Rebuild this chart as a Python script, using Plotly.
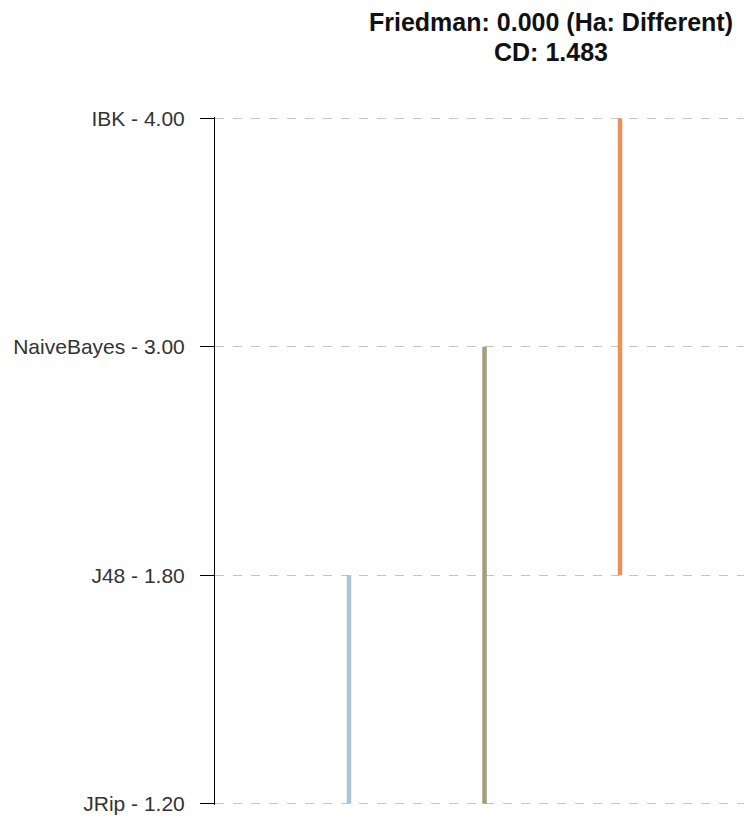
import plotly.graph_objects as go

# Data
methods = ["JRip", "J48", "NaiveBayes", "IBK"]
ranks = [1.20, 1.80, 3.00, 4.00]
tick_labels = [f"{m} - {r:.2f}" for m, r in zip(methods, ranks)]

# Groups of methods not significantly different (x slot, from method, to method)
group_slots = [1, 2, 3]
group_from = ["JRip", "JRip", "J48"]
group_to = ["J48", "NaiveBayes", "IBK"]
group_colors = ["#a8c6d8", "#a89a7c", "#e8925a"]

title_line1 = "Friedman: 0.000 (Ha: Different)"
title_line2 = "CD: 1.483"

fig = go.Figure()
for s, a, b, c in zip(group_slots, group_from, group_to, group_colors):
    fig.add_trace(go.Scatter(
        x=[s, s], y=[tick_labels[methods.index(a)], tick_labels[methods.index(b)]],
        mode="lines", line=dict(color=c, width=4.5), hoverinfo="skip", showlegend=False,
    ))

# page body has an 8px margin, so the figure is offset by 8px
fig.update_layout(
    width=744, height=814,
    margin=dict(l=207, r=0, t=109, b=17),
    plot_bgcolor="white", paper_bgcolor="white",
    font=dict(family="Arial, Liberation Sans, sans-serif"),
    showlegend=False,
)
fig.update_yaxes(
    type="category", categoryorder="array", categoryarray=tick_labels,
    range=[-0.006, 3.006], showline=True, linecolor="black", linewidth=1,
    ticks="outside", ticklen=14, tickcolor="black", ticklabelstandoff=11,
    showgrid=True, gridcolor="#c4c4c4", griddash="dash", gridwidth=1,
    tickfont=dict(size=21, color="#333333"), zeroline=False,
)
fig.update_xaxes(range=[0.011, 3.974], visible=False, showgrid=False, zeroline=False)

xc = (551 - 215) / 537
fig.add_annotation(text=f"<b>{title_line1}</b>", x=xc, y=1, yshift=117 - 22,
                   xref="paper", yref="paper", yanchor="middle",
                   showarrow=False, font=dict(size=25, color="#111111"))
fig.add_annotation(text=f"<b>{title_line2}</b>", x=xc, y=1, yshift=117 - 52,
                   xref="paper", yref="paper", yanchor="middle",
                   showarrow=False, font=dict(size=25, color="#111111"))

fig.write_html("out.html")
